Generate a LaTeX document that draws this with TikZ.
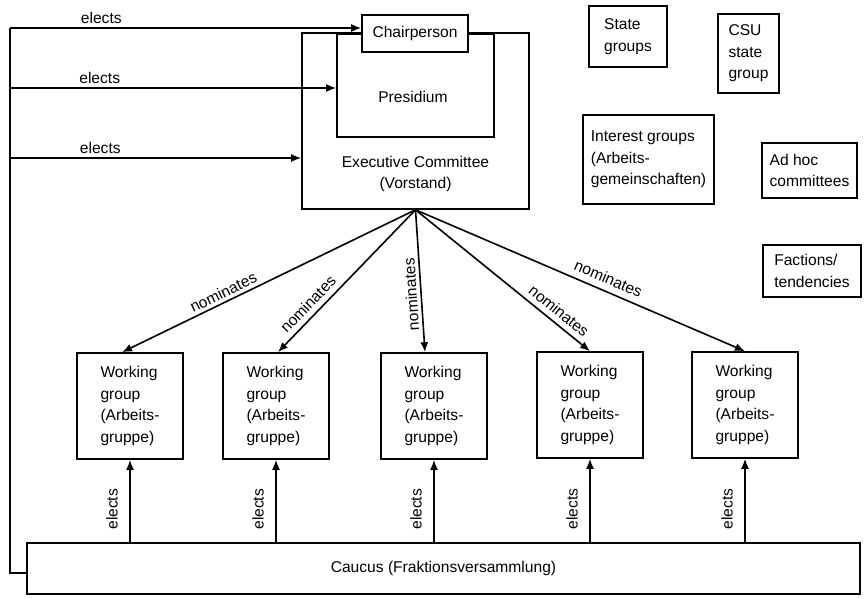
\documentclass[tikz,border=0pt]{standalone}
\usepackage{fontspec}
\setmainfont{Liberation Sans}
\usetikzlibrary{arrows.meta}
\tikzset{
  box/.style={draw, align=left, inner sep=0pt},
  wgroup/.style={box, minimum width=106pt, minimum height=106pt},
  >={Latex[length=10pt, width=8pt]},
}
\begin{document}
\begin{tikzpicture}[x=1pt, y=-1pt, line width=1.6pt, every node/.style={font=\fontsize{15.6}{21.5}\selectfont}]
  \useasboundingbox (0,0) rectangle (868,599);
  \node[box, minimum width=227pt, minimum height=176pt] (exec) at (415.5,121) {};
  \node[align=center] (execname) at (415.5,174) {Executive Committee\\(Vorstand)};
  \node[box, minimum width=157pt, minimum height=103pt] (presid) at (415.5,85.5) {};
  \node (presidname) at (413,97) {Presidium};
  \node[box, fill=white, minimum width=106pt, minimum height=37pt] (chair) at (415,33.5) {Chairperson};
  \node[box, minimum width=78pt, minimum height=61pt] (state) at (628,36.5) {State\\groups};
  \node[box, minimum width=61pt, minimum height=79pt] (csu) at (748.5,53.5) {CSU\\state\\group};
  \node[box, minimum width=131pt, minimum height=89pt] (interest) at (648.5,159.5) {Interest groups\\(Arbeits-\\gemeinschaften)};
  \node[box, minimum width=95pt, minimum height=55pt] (adhoc) at (809.5,170.5) {Ad hoc\\committees};
  \node[box, minimum width=98pt, minimum height=52pt] (factions) at (812,271) {Factions/\\tendencies};
  \node[wgroup] (wg1) at (130,406) {Working\\group\\(Arbeits-\\gruppe)};
  \node[wgroup] (wg2) at (276,406) {Working\\group\\(Arbeits-\\gruppe)};
  \node[wgroup] (wg3) at (434,406) {Working\\group\\(Arbeits-\\gruppe)};
  \node[wgroup] (wg4) at (590,405) {Working\\group\\(Arbeits-\\gruppe)};
  \node[wgroup] (wg5) at (745,405) {Working\\group\\(Arbeits-\\gruppe)};
  \node[box, align=center, minimum width=833pt, minimum height=51pt] (caucus) at (443.5,568.5) {Caucus (Fraktionsversammlung)};
  \coordinate (trunk) at (10,28);
  \coordinate (e2) at (10,88);
  \coordinate (e3) at (10,158);
  \draw ([yshift=-4.5pt]caucus.west) -| (trunk);
  \draw[->] (trunk) -- node[pos=0.26, above] (el1) {elects} (trunk -| chair.west);
  \draw[->] (e2) -- node[pos=0.275, above] (el2) {elects} (e2 -| presid.west);
  \draw[->] (e3) -- node[pos=0.31, above] (el3) {elects} (e3 -| exec.west);
  \draw[->] (exec.south) -- node[pos=0.64, sloped, above] (nom1) {nominates} ([xshift=-8pt]wg1.north);
  \draw[->] (exec.south) -- node[pos=0.72, sloped, above=2pt] (nom2) {nominates} ([xshift=2pt]wg2.north);
  \draw[->] (exec.south) -- node[pos=0.59, rotate=93.8, above] (nom3) {nominates} ([xshift=-9pt]wg3.north);
  \draw[->] (exec.south) -- node[pos=0.78, sloped, above=2pt] (nom4) {nominates} (wg4.north);
  \draw[->] (exec.south) -- node[pos=0.57, sloped, above=3pt] (nom5) {nominates} (wg5.north);
  \draw[->] (caucus.north -| wg1.south) -- node[pos=0.4, rotate=90, above=8pt] (ev1) {elects} (wg1.south);
  \draw[->] (caucus.north -| wg2.south) -- node[pos=0.4, rotate=90, above=8pt] (ev2) {elects} (wg2.south);
  \draw[->] (caucus.north -| wg3.south) -- node[pos=0.4, rotate=90, above=8pt] (ev3) {elects} (wg3.south);
  \draw[->] (caucus.north -| wg4.south) -- node[pos=0.4, rotate=90, above=8pt] (ev4) {elects} (wg4.south);
  \draw[->] (caucus.north -| wg5.south) -- node[pos=0.4, rotate=90, above=8pt] (ev5) {elects} (wg5.south);
\end{tikzpicture}
\end{document}
